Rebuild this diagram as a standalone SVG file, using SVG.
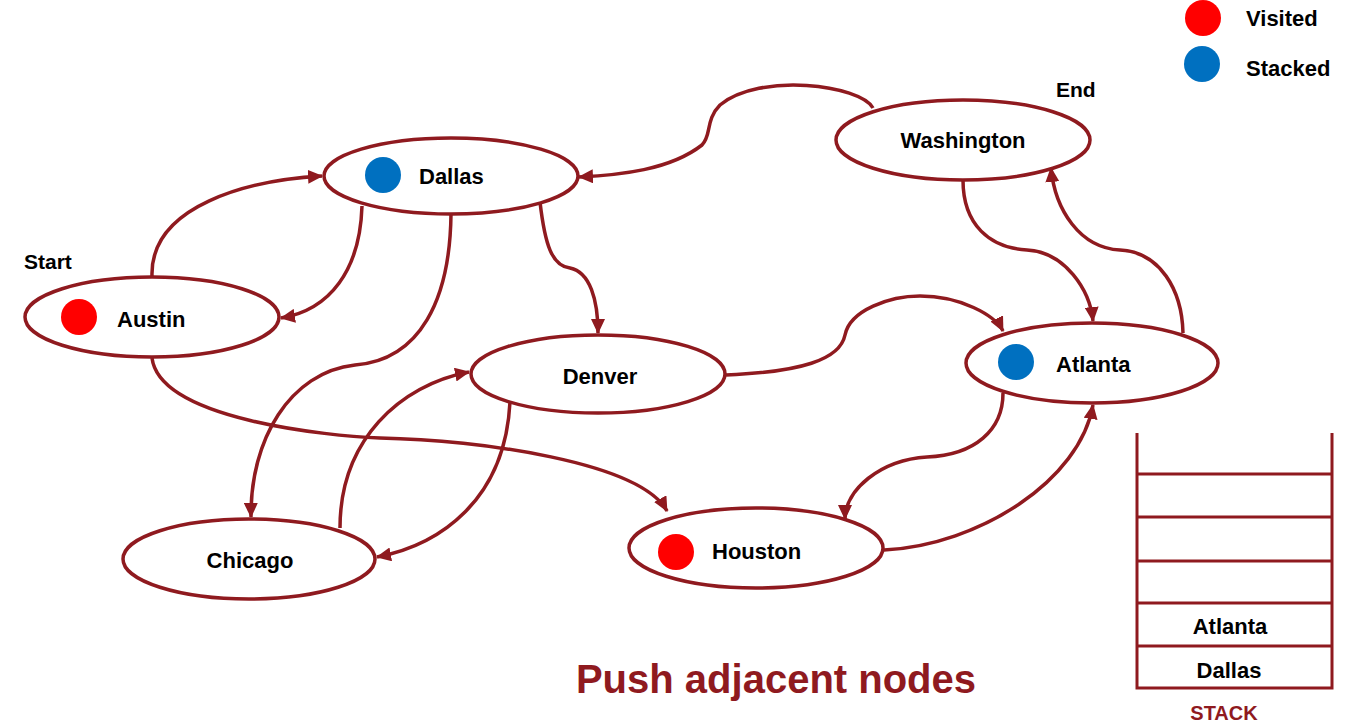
<svg xmlns="http://www.w3.org/2000/svg" width="1361" height="728" viewBox="0 0 1361 728">
<style>
.node ellipse{fill:#fff;stroke:#8f1a1f;stroke-width:3.5}
.lbl{font-family:"Liberation Sans",Arial,sans-serif;font-weight:bold;font-size:22px;fill:#000}
.edge{fill:none;stroke:#8f1a1f;stroke-width:3.5}
.stk{stroke:#8f1a1f;stroke-width:3;fill:none}
.red{fill:#ff0000}
.blue{fill:#0070c0}
</style>
<defs>
<marker id="arr" markerUnits="userSpaceOnUse" markerWidth="16" markerHeight="14" refX="14" refY="7" orient="auto">
<path d="M0,0 L15,7 L0,14 Z" fill="#8f1a1f"/>
</marker>
</defs>
<rect width="1361" height="728" fill="#fff"/>
<g id="connectors">
<path class="edge" marker-end="url(#arr)" d="M152,276 C150,205 250,180 322,176"/>
<path class="edge" marker-end="url(#arr)" d="M362,206 C360,270 330,310 281,318"/>
<path class="edge" marker-end="url(#arr)" d="M451,214 C450,300 420,360 355,365 C290,372 250,440 251,517"/>
<path class="edge" marker-end="url(#arr)" d="M340,528 C340,440 400,385 469,372"/>
<path class="edge" marker-end="url(#arr)" d="M510,402 C505,500 440,545 377,557"/>
<path class="edge" marker-end="url(#arr)" d="M540,202 C545,245 552,266 570,268 C590,272 598,300 598,333"/>
<path class="edge" marker-end="url(#arr)" d="M152,358 C160,420 330,436 380,438 C480,440 640,462 667,511"/>
<path class="edge" marker-end="url(#arr)" d="M873,108 C860,85 760,72 720,105 C705,120 712,135 702,145 C670,170 620,175 579,177"/>
<path class="edge" marker-end="url(#arr)" d="M726,375 C800,372 840,360 845,335 C850,310 890,296 920,296 C960,296 995,315 1003,331"/>
<path class="edge" marker-end="url(#arr)" d="M963,180 C963,225 990,248 1027,250 C1065,252 1090,290 1093,321"/>
<path class="edge" marker-end="url(#arr)" d="M1183,333 C1182,290 1160,252 1120,250 C1080,248 1055,210 1051,168"/>
<path class="edge" marker-end="url(#arr)" d="M1003,393 C1003,430 975,455 927,457 C880,460 845,490 845,519"/>
<path class="edge" marker-end="url(#arr)" d="M884,550 C980,545 1080,480 1093,405"/>
</g>
<g id="austin" class="node"><ellipse cx="152" cy="317" rx="127" ry="40"/><circle class="red" cx="79" cy="317" r="18"/><text class="lbl" x="117" y="327">Austin</text></g>
<g id="dallas" class="node"><ellipse cx="451" cy="176" rx="127" ry="38"/><circle class="blue" cx="383" cy="175" r="18"/><text class="lbl" x="419" y="184">Dallas</text></g>
<g id="washington" class="node"><ellipse cx="963" cy="140" rx="127" ry="40"/><text class="lbl" x="963" y="148" text-anchor="middle">Washington</text></g>
<g id="denver" class="node"><ellipse cx="598" cy="374" rx="127" ry="39"/><text class="lbl" x="600" y="384" text-anchor="middle">Denver</text></g>
<g id="atlanta" class="node"><ellipse cx="1092" cy="363" rx="126" ry="40"/><circle class="blue" cx="1016" cy="362" r="18"/><text class="lbl" x="1056" y="372">Atlanta</text></g>
<g id="chicago" class="node"><ellipse cx="249" cy="559" rx="126" ry="40"/><text class="lbl" x="250" y="568" text-anchor="middle">Chicago</text></g>
<g id="houston" class="node"><ellipse cx="756" cy="548" rx="127" ry="40"/><circle class="red" cx="676" cy="552" r="18"/><text class="lbl" x="712" y="559">Houston</text></g>
<text class="lbl" x="24" y="269" style="font-size:21px">Start</text>
<text class="lbl" x="1056" y="97" style="font-size:21px">End</text>
<g id="legend">
<circle class="red" cx="1203" cy="18" r="18"/>
<circle class="blue" cx="1202" cy="64" r="18"/>
<text class="lbl" x="1246" y="26">Visited</text>
<text class="lbl" x="1246" y="76">Stacked</text>
</g>
<g id="stack">
<path class="stk" d="M1137,433 V688 H1332 V433 M1137,474 H1332 M1137,517 H1332 M1137,561 H1332 M1137,603 H1332 M1137,646 H1332"/>
<text class="lbl" x="1230" y="634" text-anchor="middle">Atlanta</text>
<text class="lbl" x="1229" y="678" text-anchor="middle">Dallas</text>
<text x="1224" y="720" text-anchor="middle" style="font-family:'Liberation Sans',Arial,sans-serif;font-weight:bold;font-size:20px;fill:#8f1a1f">STACK</text>
</g>
<text x="776" y="693" text-anchor="middle" style="font-family:'Liberation Sans',Arial,sans-serif;font-weight:bold;font-size:40px;fill:#8f1a1f">Push adjacent nodes</text>
</svg>
